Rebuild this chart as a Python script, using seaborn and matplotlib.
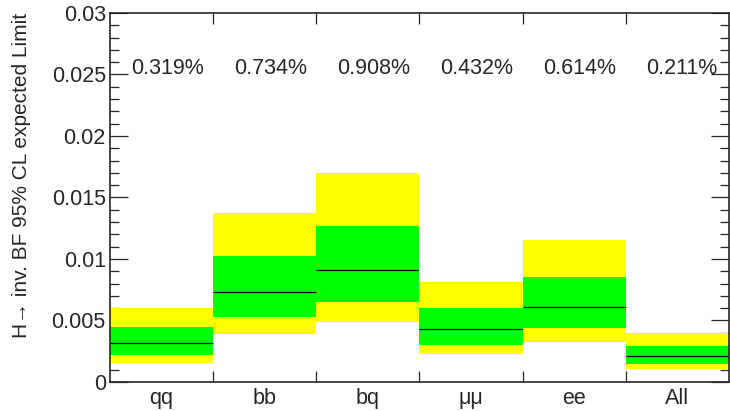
import numpy as np
import matplotlib
matplotlib.use("Agg")
import matplotlib.pyplot as plt
import matplotlib.ticker as mticker
import seaborn as sns

# expected limits per channel
channels = ["qq", "bb", "bq", "\u03bc\u03bc", "ee", "All"]
median = [0.00317, 0.00732, 0.00910, 0.00430, 0.00612, 0.00210]
band1_lo = [0.00222, 0.00526, 0.00650, 0.00304, 0.00436, 0.00149]
band1_hi = [0.00447, 0.01024, 0.01268, 0.00604, 0.00856, 0.00295]
band2_lo = [0.00157, 0.00393, 0.00485, 0.00228, 0.00323, 0.00106]
band2_hi = [0.00599, 0.01374, 0.01702, 0.00816, 0.01157, 0.00396]
labels = ["0.319%", "0.734%", "0.908%", "0.432%", "0.614%", "0.211%"]

sns.set_style("ticks")
plt.rcParams["font.family"] = ["Liberation Sans", "DejaVu Sans"]
fs = 15.5

fig = plt.figure(figsize=(7.3, 4.11), dpi=100)
ax = fig.add_axes([0.1507, 0.0706, 0.8479, 0.8978])

x = np.arange(len(channels))
ax.bar(x, np.array(band2_hi) - np.array(band2_lo), bottom=band2_lo,
       width=1.0, color="#ffff00", linewidth=0)
ax.bar(x, np.array(band1_hi) - np.array(band1_lo), bottom=band1_lo,
       width=1.0, color="#00ff00", linewidth=0)
ax.hlines(median, x - 0.5, x + 0.5, color="black", linewidth=0.9)

for i, lab in enumerate(labels):
    ax.text(i - 0.3, 0.025, lab, fontsize=fs, ha="left", va="baseline")

ax.set_xlim(-0.5, len(channels) - 0.5)
ax.set_ylim(0, 0.03)

# x: ticks on bin edges, labels at bin centres
ax.xaxis.set_major_locator(mticker.FixedLocator(x[:-1] + 0.5))
ax.xaxis.set_major_formatter(mticker.NullFormatter())
ax.xaxis.set_minor_locator(mticker.FixedLocator(x))
ax.xaxis.set_minor_formatter(mticker.FixedFormatter(channels))
ax.tick_params(axis="x", which="major", direction="in", length=8,
               top=True, bottom=True, width=0.9)
ax.tick_params(axis="x", which="minor", length=0, labelsize=fs, pad=4)

ax.yaxis.set_major_locator(mticker.MultipleLocator(0.005))
ax.yaxis.set_minor_locator(mticker.MultipleLocator(0.001))
ax.yaxis.set_major_formatter(mticker.FuncFormatter(lambda v, p: "%g" % round(v, 4)))
ax.tick_params(axis="y", which="major", direction="in", length=13,
               left=True, right=True, labelsize=fs, width=0.9, pad=3)
ax.tick_params(axis="y", which="minor", direction="in", length=6.5,
               left=True, right=True, width=0.9)

for s in ax.spines.values():
    s.set_linewidth(1.2)
    s.set_visible(True)

ax.set_ylabel("H\u2192 inv. BF 95% CL expected Limit", fontsize=15, loc="top")
ax.yaxis.set_label_coords(-0.128, 1.0)

fig.savefig("out.png", dpi=100)
